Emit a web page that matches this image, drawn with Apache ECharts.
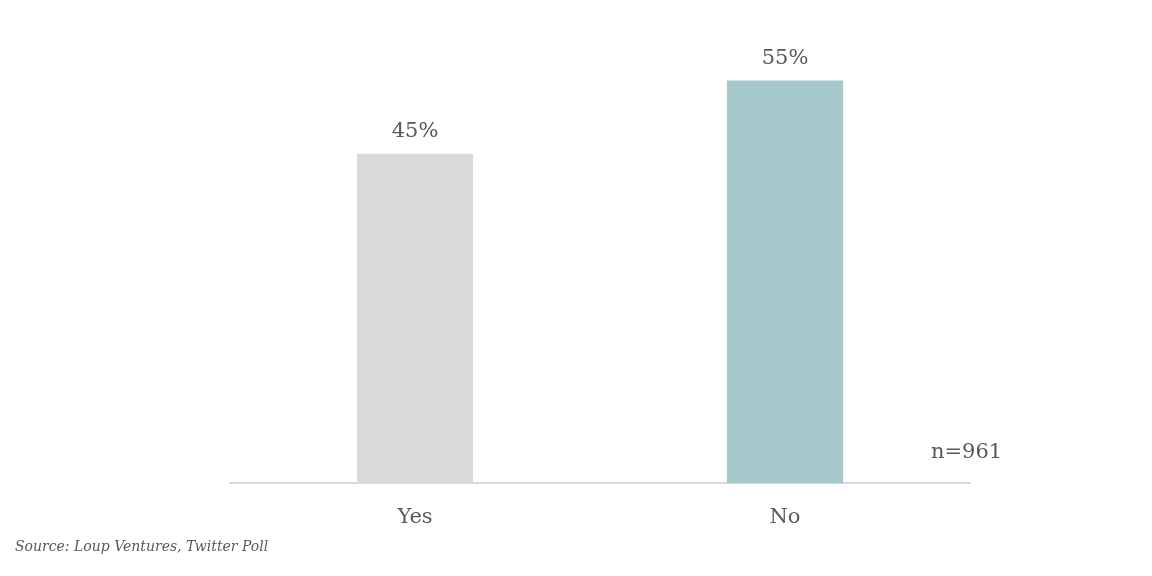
<!DOCTYPE html>
<html><head><meta charset="utf-8">
<script src="https://cdn.jsdelivr.net/npm/echarts@6/dist/echarts.min.js"></script>
<style>html,body{margin:0;padding:0;background:#fff}#c{width:1152px;height:576px}</style>
</head><body><div id="c"></div>
<script>
const categories = ['Yes', 'No'];
const values = [45, 55];
const barColors = ['#d9dad9', '#a5c9cb'];
const sampleNote = 'n=961';
const sourceNote = 'Source: Loup Ventures, Twitter Poll';

const font = '"DejaVu Serif", "Liberation Serif", serif';
const chart = echarts.init(document.getElementById('c'));
chart.setOption({
  animation: false,
  grid: { left: 230, right: 182, top: 44, bottom: 93 },
  xAxis: {
    type: 'category', data: categories,
    axisLine: { lineStyle: { color: '#d9d9d9', width: 2 } },
    axisTick: { show: false },
    axisLabel: { color: '#595959', fontSize: 21, fontFamily: font, margin: 24 }
  },
  yAxis: { type: 'value', min: 0, max: 60, show: false },
  series: [{
    type: 'bar', barWidth: '31.4%',
    data: values.map((v, i) => ({ value: v, itemStyle: { color: barColors[i] } })),
    label: { show: true, position: 'top', distance: 12, color: '#595959', fontSize: 21, fontFamily: font, formatter: '{c}%' }
  }],
  graphic: [
    { type: 'text', left: 931, top: 442, style: { text: sampleNote, fill: '#595959', font: '21px ' + font } },
    { type: 'text', left: 15, top: 540, style: { text: sourceNote, fill: '#595959', font: 'italic 14px ' + font } }
  ]
});
</script></body></html>
